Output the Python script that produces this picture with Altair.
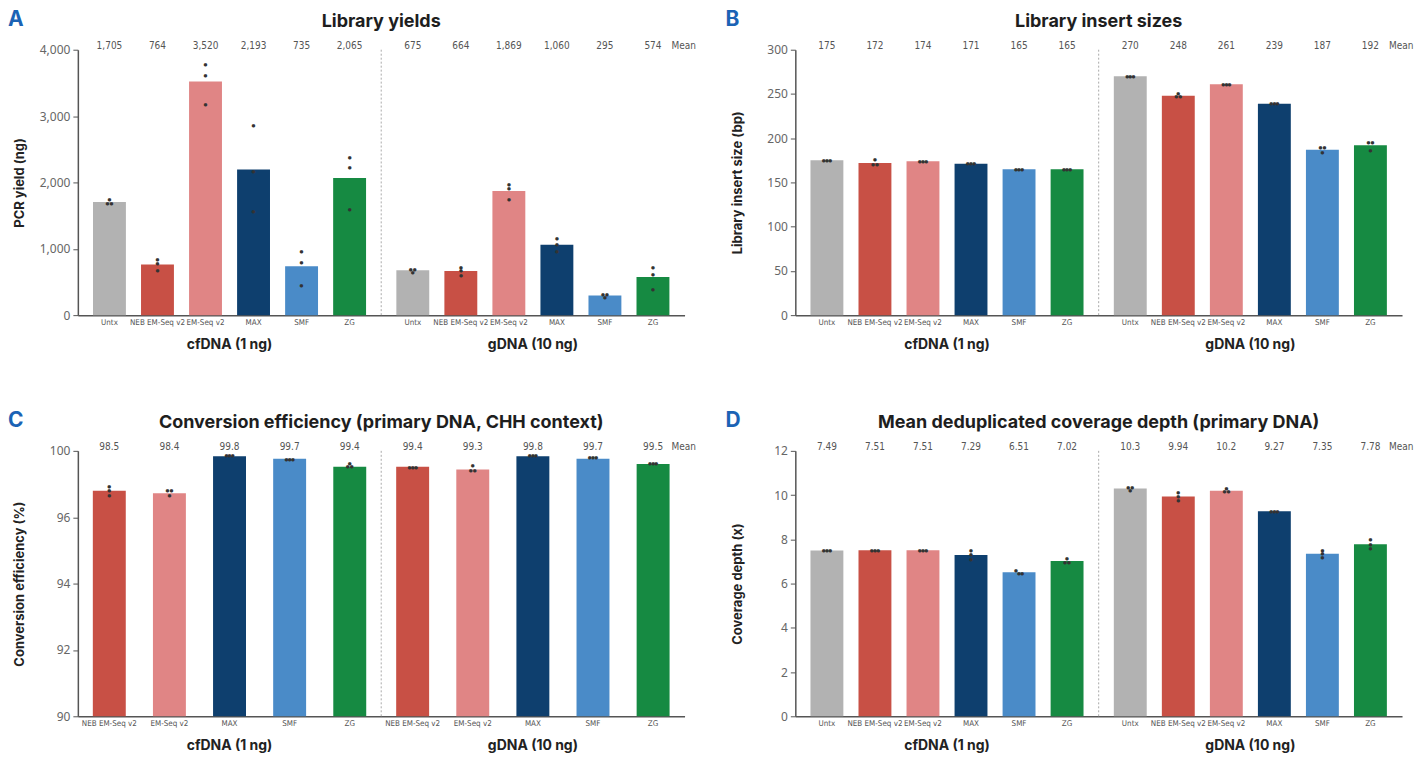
import altair as alt
import pandas as pd

GROUPS = ["cfDNA (1 ng)", "gDNA (10 ng)"]
LIBS = ["Untx", "NEB EM-Seq v2", "EM-Seq v2", "MAX", "SMF", "ZG"]
COLORS = ["#b2b2b2", "#c85045", "#e08585", "#0e3f6e", "#4a8bc8", "#168a42"]

# Panel A - Library yields (ng)
A_MEAN_CF = [1705, 764, 3520, 2193, 735, 2065]
A_MEAN_G = [675, 664, 1869, 1060, 295, 574]
A_REPS_CF = [[1745, 1685, 1685], [840, 780, 672], [3780, 3615, 3170],
             [2860, 2160, 1560], [965, 800, 440], [2380, 2220, 1595]]
A_REPS_G = [[695, 695, 635], [725, 668, 600], [1965, 1905, 1740],
            [1150, 1070, 960], [312, 312, 262], [712, 618, 392]]
A_TICKS = [0, 500, 1000, 1500, 2000, 2500, 3000, 3500, 4000]
A_TICK_LABELS = ["0", "500", "1,000", "1,500", "2,000", "2,500", "3,000", "3,500", "4,000"]

# Panel B - Library insert sizes (bp)
B_MEAN_CF = [175, 172, 174, 171, 165, 165]
B_MEAN_G = [270, 248, 261, 239, 187, 192]
B_REPS_CF = [[175, 175, 175], [176, 170, 170], [174, 174, 174],
             [171, 171, 171], [165, 165, 165], [165, 165, 165]]
B_REPS_G = [[270, 270, 270], [251, 247, 247], [261, 261, 261],
            [239, 239, 239], [189, 189, 184], [195, 195, 186]]
B_TICKS = [0, 50, 100, 150, 200, 250, 300]
B_TICK_LABELS = ["0", "50", "100", "150", "200", "250", "300"]

# Panel C - Conversion efficiency (%)
C_LIBS = LIBS[1:]
C_COLORS = COLORS[1:]
C_MEAN_CF = [98.5, 98.4, 99.8, 99.7, 99.4]
C_MEAN_G = [99.4, 99.3, 99.8, 99.7, 99.5]
C_REPS_CF = [[98.65, 98.5, 98.33], [98.5, 98.5, 98.3], [99.83, 99.83, 99.83],
             [99.68, 99.68, 99.68], [99.54, 99.4, 99.4]]
C_REPS_G = [[99.38, 99.38, 99.38], [99.45, 99.25, 99.25], [99.83, 99.83, 99.83],
            [99.75, 99.75, 99.75], [99.52, 99.52, 99.52]]
C_TICKS = [90, 92.5, 95, 97.5, 100]
C_TICK_LABELS = ["90", "92", "94", "96", "100"]

# Panel D - Coverage depth (x)
D_MEAN_CF = [7.49, 7.51, 7.51, 7.29, 6.51, 7.02]
D_MEAN_G = [10.3, 9.94, 10.2, 9.27, 7.35, 7.78]
D_REPS_CF = [[7.49, 7.49, 7.49], [7.51, 7.51, 7.51], [7.51, 7.51, 7.51],
             [7.48, 7.3, 7.1], [6.6, 6.47, 6.47], [7.14, 6.96, 6.96]]
D_REPS_G = [[10.36, 10.36, 10.2], [10.13, 9.94, 9.75], [10.3, 10.15, 10.15],
            [9.27, 9.27, 9.27], [7.5, 7.34, 7.2], [7.97, 7.78, 7.6]]
D_TICKS = [0, 2, 4, 6, 8, 10, 12]
D_TICK_LABELS = ["0", "2", "4", "6", "8", "10", "12"]

W, H = 608, 266
COND = "'Liberation Sans Narrow', 'DejaVu Sans Condensed', 'Roboto Condensed', 'Arial Narrow', Roboto"
SANS = "Inter, 'Noto Sans', Roboto"
TICKF = "'Noto Sans', Roboto"
BLUE = "#1b63b5"


def label_expr(ticks, labels):
    expr = "''"
    for t, l in reversed(list(zip(ticks, labels))):
        expr = f"datum.value == {t} ? '{l}' : ({expr})"
    return expr


def dodge(vals, pxper, thr=3.0):
    idx = sorted(range(len(vals)), key=lambda i: -vals[i])
    clusters = []
    for i in idx:
        if clusters and abs(vals[clusters[-1][-1]] - vals[i]) * pxper < thr:
            clusters[-1].append(i)
        else:
            clusters.append([i])
    out = [0.0] * len(vals)
    for c in clusters:
        n = len(c)
        offs = {1: [0.0], 2: [-2.0, 2.0], 3: [-3.2, 0.0, 3.2]}[n]
        for k, i in enumerate(c):
            out[i] = offs[k]
    return out


def panel(letter, title, ytitle, libs, colors, m_cf, m_g, r_cf, r_g,
          ydom, ticks, tick_labels, fmt, pi, po):
    pxper = H / (ydom[1] - ydom[0])
    bar_rows, pt_rows = [], []
    for g, means, reps in [(GROUPS[0], m_cf, r_cf), (GROUPS[1], m_g, r_g)]:
        for lib, m, rr in zip(libs, means, reps):
            bar_rows.append({"group": g, "lib": lib, "mean": m, "label": fmt(m)})
            for v, d in zip(rr, dodge(rr, pxper)):
                pt_rows.append({"group": g, "lib": lib, "val": v, "dx": d})
    bars_df = pd.DataFrame(bar_rows)
    pts_df = pd.DataFrame(pt_rows)

    x = alt.X("group:N",
              scale=alt.Scale(domain=GROUPS, paddingInner=0.05, paddingOuter=0.025),
              axis=alt.Axis(title=None, ticks=False, labelPadding=22, labelFontSize=14,
                            labelFont=SANS, labelFontWeight="bold", labelColor="#222",
                            labelAngle=0, domainColor="#555", domainWidth=1.5, grid=False))
    xo = alt.XOffset("lib:N", scale=alt.Scale(domain=libs, paddingInner=pi, paddingOuter=po))
    yscale = alt.Scale(domain=ydom, zero=False, nice=False)
    yaxis = alt.Axis(title=ytitle, values=ticks, labelExpr=label_expr(ticks, tick_labels),
                     grid=False, tickSize=5, tickColor="#555", domainColor="#555",
                     domainWidth=1.5, labelFont=TICKF, labelFontSize=12, labelColor="#666",
                     labelPadding=3, titleFont=SANS, titleFontSize=13, titleFontWeight="bold",
                     titleColor="#222", titleX=-58, titleY=H / 2, titleAngle=270,
                     titleBaseline="middle", titleAlign="center")

    bars = alt.Chart(bars_df).mark_bar().encode(
        x=x, xOffset=xo,
        y=alt.Y("mean:Q", scale=yscale, axis=yaxis),
        y2=alt.datum(ydom[0]),
        color=alt.Color("lib:N", scale=alt.Scale(domain=libs, range=colors), legend=None),
    )
    layers = [bars]
    for d in sorted(pts_df["dx"].unique()):
        sub = pts_df[pts_df["dx"] == d]
        layers.append(alt.Chart(sub).mark_text(text="\u25cf", font="DejaVu Sans", fontSize=4.5,
                                               color="#333", baseline="middle",
                                               dx=float(d), dy=0.5).encode(
            x=x, xOffset=xo, y=alt.Y("val:Q", scale=yscale)))
    bar_labels = alt.Chart(bars_df).mark_text(font=COND, fontSize=8, color="#555",
                                              baseline="middle").encode(
        x=x, xOffset=xo, y=alt.value(H + 8), text="lib:N")
    mean_labels = alt.Chart(bars_df).mark_text(font=COND, fontSize=10, color="#555",
                                               baseline="middle").encode(
        x=x, xOffset=xo, y=alt.value(-4), text="label:N")
    one = pd.DataFrame({"t": ["Mean"], "l": [letter], "title": [title]})
    mean_word = alt.Chart(one).mark_text(font=COND, fontSize=10, color="#555",
                                         align="left", baseline="middle").encode(
        x=alt.value(W - 13), y=alt.value(-4), text="t:N")
    divider = alt.Chart(one).mark_rule(strokeDash=[2, 2], color="#aaa", strokeWidth=1).encode(
        x=alt.value(W / 2), y=alt.value(0), y2=alt.value(H))
    letter_mark = alt.Chart(one).mark_text(font=SANS, fontSize=21, fontWeight="bold",
                                           color=BLUE, align="left", baseline="middle").encode(
        x=alt.value(-70), y=alt.value(-30), text="l:N")
    title_mark = alt.Chart(one).mark_text(font=SANS, fontSize=18, fontWeight="bold",
                                          color="#1e1e1e", align="center",
                                          baseline="alphabetic").encode(
        x=alt.value(W / 2), y=alt.value(-23), text="title:N")
    layers += [bar_labels, mean_labels, mean_word, divider, letter_mark, title_mark]
    return alt.layer(*layers).properties(width=W, height=H)


pA = panel("A", "Library yields", "PCR yield (ng)", LIBS, COLORS, A_MEAN_CF, A_MEAN_G,
           A_REPS_CF, A_REPS_G, [0, 4000], A_TICKS, A_TICK_LABELS,
           lambda v: f"{v:,}", 0.315, 0.1575)
pB = panel("B", "Library insert sizes", "Library insert size (bp)", LIBS, COLORS, B_MEAN_CF,
           B_MEAN_G, B_REPS_CF, B_REPS_G, [0, 300], B_TICKS, B_TICK_LABELS,
           lambda v: f"{v}", 0.315, 0.1575)
pC = panel("C", "Conversion efficiency (primary DNA, CHH context)", "Conversion efficiency (%)",
           C_LIBS, C_COLORS, C_MEAN_CF, C_MEAN_G, C_REPS_CF, C_REPS_G, [90, 100],
           C_TICKS, C_TICK_LABELS, lambda v: f"{v:.1f}", 0.452, 0.123)
pD = panel("D", "Mean deduplicated coverage depth (primary DNA)", "Coverage depth (x)", LIBS,
           COLORS, D_MEAN_CF, D_MEAN_G, D_REPS_CF, D_REPS_G, [0, 12], D_TICKS, D_TICK_LABELS,
           lambda v: f"{v:.3g}", 0.315, 0.1575)

row1 = alt.hconcat(pA, pB, spacing=29).resolve_scale(xOffset="independent", color="independent",
                                                      x="independent", y="independent")
row2 = alt.hconcat(pC, pD, spacing=29).resolve_scale(xOffset="independent", color="independent",
                                                      x="independent", y="independent")
chart = alt.vconcat(row1, row2, spacing=59).resolve_scale(
    xOffset="independent", color="independent", x="independent", y="independent"
).properties(padding={"left": 0, "top": 0, "right": 0, "bottom": 0}).configure_view(stroke=None)

chart.save("out.html", embed_options={"renderer": "svg", "actions": False})
